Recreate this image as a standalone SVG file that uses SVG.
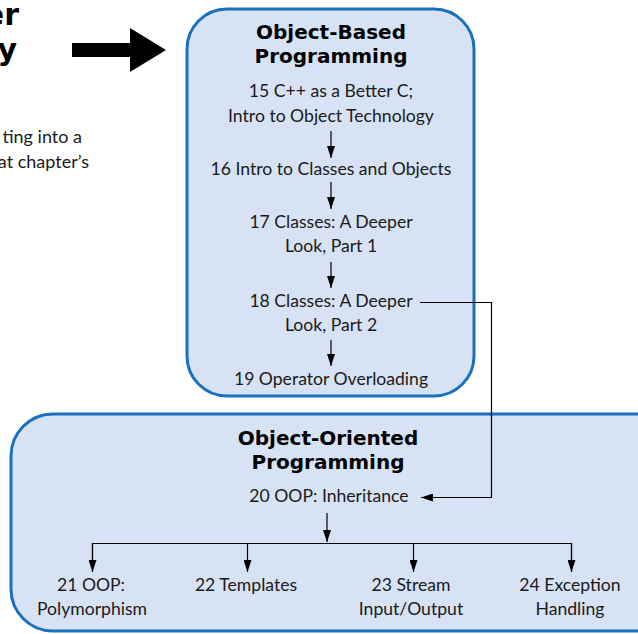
<svg xmlns="http://www.w3.org/2000/svg" width="638" height="634" viewBox="0 0 638 634">
<defs>
<marker id="ah" viewBox="0 0 12 8" refX="12" refY="4" markerWidth="12" markerHeight="8" markerUnits="userSpaceOnUse" orient="auto">
<path d="M0,0 L12,4 L0,8 Z" fill="#000"/>
</marker>
<style>
.box{fill:#d7e3f4;stroke:#1a70bd;stroke-width:3}
.t{font-family:Lato,"Open Sans","Liberation Sans",sans-serif;font-size:17.6px;fill:#1a1a1a;text-anchor:middle}
.h{font-family:"DejaVu Sans","Liberation Sans",sans-serif;font-size:20px;font-weight:bold;fill:#000;text-anchor:middle}
.big{font-family:"DejaVu Sans","Liberation Sans",sans-serif;font-size:30px;font-weight:bold;fill:#000;text-anchor:end}
.side{font-family:Lato,"Open Sans","Liberation Sans",sans-serif;font-size:18px;fill:#1a1a1a;text-anchor:end}
.c{fill:none;stroke:#000;stroke-width:1.2}
.a{marker-end:url(#ah)}
</style>
</defs>
<rect width="638" height="634" fill="#fff"/>
<g id="intro">
<text class="big" x="19" y="25">er</text>
<text class="big" x="17" y="60">y</text>
<text class="side" x="82" y="143">ting into a</text>
<text class="side" x="89" y="168">at chapter’s</text>
<polygon points="72,43 130,43 130,28 166,50 130,72 130,57 72,57" fill="#000"/>
</g>
<g id="object-based">
<rect class="box" x="187" y="9" width="287" height="387" rx="40" ry="40"/>
<text class="h" x="331" y="39">Object-Based</text>
<text class="h" x="331" y="63">Programming</text>
<text class="t" x="331" y="97">15 C++ as a Better C;</text>
<text class="t" x="331" y="122">Intro to Object Technology</text>
<text class="t" x="331" y="175">16 Intro to Classes and Objects</text>
<text class="t" x="331" y="228">17 Classes: A Deeper</text>
<text class="t" x="331" y="252">Look, Part 1</text>
<text class="t" x="331" y="307">18 Classes: A Deeper</text>
<text class="t" x="331" y="331">Look, Part 2</text>
<text class="t" x="331" y="385">19 Operator Overloading</text>
</g>
<g id="object-oriented">
<rect class="box" x="11" y="414" width="680" height="217" rx="42" ry="42"/>
<text class="h" x="328" y="445">Object-Oriented</text>
<text class="h" x="328" y="469">Programming</text>
<text class="t" x="329" y="502">20 OOP: Inheritance</text>
<text class="t" x="91" y="591">21 OOP:</text>
<text class="t" x="92" y="615">Polymorphism</text>
<text class="t" x="246" y="591">22 Templates</text>
<text class="t" x="411" y="591">23 Stream</text>
<text class="t" x="411" y="615">Input/Output</text>
<text class="t" x="570" y="591">24 Exception</text>
<text class="t" x="570" y="615">Handling</text>
</g>
<g id="connectors">
<line class="c a" x1="331" y1="131" x2="331" y2="158"/>
<line class="c a" x1="331" y1="182" x2="331" y2="209"/>
<line class="c a" x1="331" y1="262" x2="331" y2="288"/>
<line class="c a" x1="331" y1="340" x2="331" y2="366"/>
<polyline class="c a" points="420,302.5 491.5,302.5 491.5,497.5 421,497.5"/>
<line class="c a" x1="327" y1="513" x2="327" y2="542"/>
<polyline class="c" points="92.5,560 92.5,543.5 571.5,543.5 571.5,560"/>
<line class="c a" x1="92.5" y1="543" x2="92.5" y2="572"/>
<line class="c a" x1="247.5" y1="543" x2="247.5" y2="572"/>
<line class="c a" x1="413.5" y1="543" x2="413.5" y2="572"/>
<line class="c a" x1="571.5" y1="543" x2="571.5" y2="572"/>
</g>
</svg>
